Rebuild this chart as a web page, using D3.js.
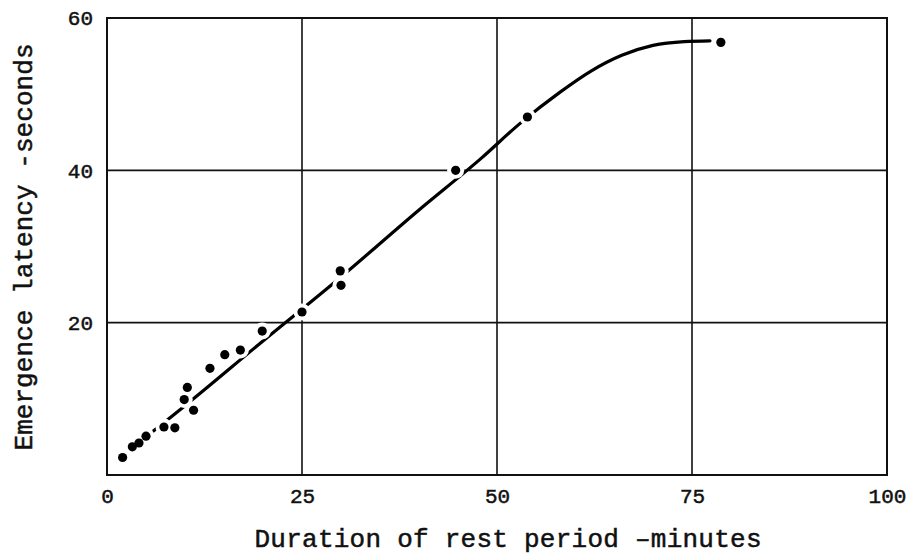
<!DOCTYPE html>
<html>
<head>
<meta charset="utf-8">
<script src="https://cdn.jsdelivr.net/npm/d3@7"></script>
<style>
  body { margin: 0; background: #fff; }
  text { font-family: "Liberation Mono", "DejaVu Sans Mono", monospace; fill: #111; stroke: #111; stroke-width: 0.5px; }
</style>
</head>
<body>
<div id="chart"></div>
<script>
// observed points: rest period (minutes) vs emergence latency (seconds)
var restMinutes = [2.0, 3.25, 4.1, 5.0, 7.3, 8.7, 9.9, 10.3, 11.1, 13.2, 15.1, 17.1, 19.9, 25.0, 29.9, 30.0, 44.7, 53.9, 78.7];
var latencySeconds = [2.3, 3.7, 4.2, 5.1, 6.3, 6.2, 9.9, 11.5, 8.5, 14.0, 15.8, 16.4, 18.9, 21.4, 26.8, 24.9, 40.0, 47.0, 56.8];

// fitted curve
var curveMinutes = [3, 10, 20, 30, 40, 48, 53, 58, 62, 66, 70, 74, 77.3];
var curveSeconds = [3.4, 9.1, 17.6, 26.0, 34.8, 41.6, 46.2, 50.2, 53.0, 55.1, 56.4, 56.9, 57.0];

var xTicks = [0, 25, 50, 75, 100];
var yTicks = [20, 40, 60];

var width = 915,
    height = 554,
    margin = {top: 18, right: 28, bottom: 79, left: 107};

var svg = d3.select("#chart")
  .append("svg")
    .attr("width", width)
    .attr("height", height);

var x = d3.scaleLinear()
  .domain([0, 100])
  .range([margin.left, width - margin.right]);

var y = d3.scaleLinear()
  .domain([0, 60])
  .range([height - margin.bottom, margin.top]);

// grid lines
svg.append("g")
  .selectAll("line")
  .data([25, 50, 75])
  .enter()
    .append("line")
    .attr("x1", function(d) { return x(d); })
    .attr("x2", function(d) { return x(d); })
    .attr("y1", y(0))
    .attr("y2", y(60))
    .attr("stroke", "#111")
    .attr("stroke-width", 1.6);

svg.append("g")
  .selectAll("line")
  .data([20, 40])
  .enter()
    .append("line")
    .attr("x1", x(0))
    .attr("x2", x(100))
    .attr("y1", function(d) { return y(d); })
    .attr("y2", function(d) { return y(d); })
    .attr("stroke", "#111")
    .attr("stroke-width", 1.6);

// fitted curve
var line = d3.line()
  .x(function(d) { return x(d[0]); })
  .y(function(d) { return y(d[1]); })
  .curve(d3.curveMonotoneX);

svg.append("path")
  .datum(d3.zip(curveMinutes, curveSeconds))
  .attr("d", line)
  .attr("fill", "none")
  .attr("stroke", "#000")
  .attr("stroke-width", 3.2)
  .attr("stroke-linecap", "round");

var points = d3.zip(restMinutes, latencySeconds);

// white gaps where the curve and grid meet a point
svg.append("g")
  .selectAll("circle")
  .data(points)
  .enter()
    .append("circle")
    .attr("cx", function(d) { return x(d[0]); })
    .attr("cy", function(d) { return y(d[1]); })
    .attr("r", 8.5)
    .attr("fill", "#fff");

// frame
svg.append("rect")
  .attr("x", x(0))
  .attr("y", y(60))
  .attr("width", x(100) - x(0))
  .attr("height", y(0) - y(60))
  .attr("fill", "none")
  .attr("stroke", "#111")
  .attr("stroke-width", 2);

svg.append("g")
  .selectAll("circle")
  .data(points)
  .enter()
    .append("circle")
    .attr("cx", function(d) { return x(d[0]); })
    .attr("cy", function(d) { return y(d[1]); })
    .attr("r", 4.6)
    .attr("fill", "#000");

// axes (labels only, the frame carries the lines)
var xAxis = d3.axisBottom(x).tickValues(xTicks).tickSize(0).tickPadding(13);
svg.append("g")
  .attr("class", "x-axis")
  .attr("transform", "translate(0," + y(0) + ")")
  .call(xAxis)
  .call(function(g) { g.select(".domain").remove(); })
  .selectAll(".tick text")
    .attr("font-size", "21px")
    .attr("font-family", "Liberation Mono");

var yAxis = d3.axisLeft(y).tickValues(yTicks).tickSize(0).tickPadding(14);
svg.append("g")
  .attr("class", "y-axis")
  .attr("transform", "translate(" + x(0) + ",0)")
  .call(yAxis)
  .call(function(g) { g.select(".domain").remove(); })
  .selectAll(".tick text")
    .attr("font-size", "21px")
    .attr("font-family", "Liberation Mono");

svg.selectAll(".tick text").attr("fill", "#111");

svg.append("text")
  .attr("x", 508)
  .attr("y", 547)
  .attr("text-anchor", "middle")
  .attr("font-size", "26px")
  .attr("textLength", 507)
  .attr("lengthAdjust", "spacing")
  .text("Duration of rest period \u2013minutes");

svg.append("text")
  .attr("transform", "translate(32,247) rotate(-90)")
  .attr("text-anchor", "middle")
  .attr("font-size", "26px")
  .attr("textLength", 407)
  .attr("lengthAdjust", "spacing")
  .text("Emergence latency -seconds");
</script>
</body>
</html>
